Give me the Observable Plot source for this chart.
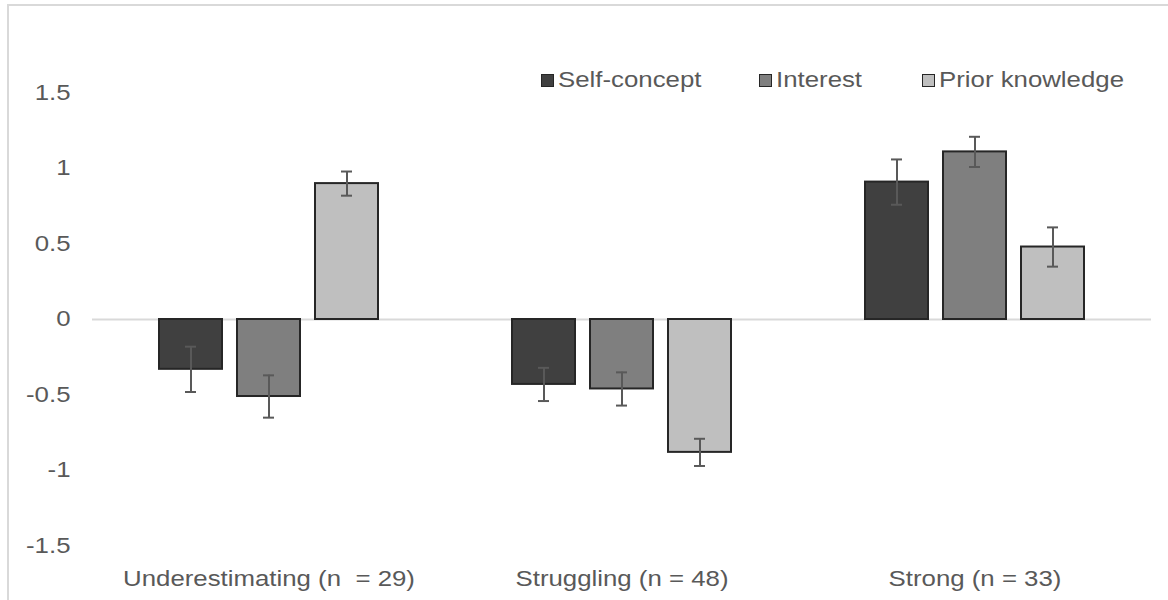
<!DOCTYPE html>
<html>
<head>
<meta charset="utf-8">
<script src="https://cdn.jsdelivr.net/npm/d3@7"></script>
<script src="https://cdn.jsdelivr.net/npm/@observablehq/plot@0.6"></script>
<style>
  html, body { margin: 0; padding: 0; background: #fff; }
  #wrap { position: relative; width: 1168px; height: 600px; overflow: hidden; font-family: "Liberation Sans", Arial, sans-serif; }
  #frame { position: absolute; left: 7px; top: 4px; width: 1170px; height: 600px; border-top: 2px solid #d9d9d9; border-left: 2px solid #d9d9d9; }
  #chart { position: absolute; left: 0; top: 0; }
  #chart svg text { white-space: pre; }
  .legend-item { position: absolute; top: 69px; display: flex; align-items: center; font-size: 21.5px; color: #595959; line-height: 22px; white-space: nowrap; }
  .swatch { width: 13px; height: 13px; box-sizing: border-box; border: 1.5px solid #262626; margin-right: 4px; flex: none; }
  .legend-label { display: inline-block; transform: scaleX(1.2); transform-origin: left center; }
</style>
</head>
<body>
<div id="wrap">
  <div id="frame"></div>
  <div id="chart"></div>
  <div id="legend"></div>
</div>
<script>
// Student profile groups and the three standardized measures (mean z-scores with error bars)
const groups = ["Underestimating (n  = 29)", "Struggling (n = 48)", "Strong (n = 33)"];
const series = ["Self-concept", "Interest", "Prior knowledge"];
const colors = ["#404040", "#7f7f7f", "#bfbfbf"];

const selfConcept    = [-0.33, -0.43, 0.91];
const interest       = [-0.51, -0.46, 1.11];
const priorKnowledge = [ 0.90, -0.88, 0.48];

const selfConceptErr    = [0.15, 0.11, 0.15];
const interestErr       = [0.14, 0.11, 0.10];
const priorKnowledgeErr = [0.08, 0.09, 0.13];

const yTicks = [-1.5, -1, -0.5, 0, 0.5, 1, 1.5];
const legendLeft = [541, 759, 922];
const textStretch = 1.2; // labels are drawn slightly wide

const values = [selfConcept, interest, priorKnowledge];
const errors = [selfConceptErr, interestErr, priorKnowledgeErr];

const rows = [];
groups.forEach((g, gi) => {
  series.forEach((s, si) => {
    const v = values[si][gi], e = errors[si][gi];
    rows.push({group: g, series: s, value: v, lo: v - e, hi: v + e});
  });
});

const chart = Plot.plot({
  width: 1168,
  height: 600,
  marginLeft: 92,
  marginRight: 17,
  marginTop: 92.5,
  marginBottom: 54.5,
  style: {fontFamily: "'Liberation Sans', Arial, sans-serif", fontSize: "21.5px", color: "#595959", background: "transparent", overflow: "visible"},
  fx: {domain: groups, padding: 0, label: null, axis: "bottom", tickSize: 0, tickPadding: 25},
  x: {domain: series, paddingInner: 0.19, paddingOuter: 0.83, axis: null},
  y: {domain: [-1.5, 1.5], ticks: yTicks, tickFormat: d => String(d), label: null, tickSize: 0, tickPadding: 22},
  color: {domain: series, range: colors},
  marks: [
    Plot.ruleY([0], {stroke: "#d9d9d9", strokeWidth: 2}),
    Plot.barY(rows, {fx: "group", x: "series", y: "value", fill: "series", stroke: "#262626", strokeWidth: 2}),
    Plot.ruleX(rows, {fx: "group", x: "series", y1: "lo", y2: "hi", stroke: "#595959", strokeWidth: 2}),
    Plot.tickY(rows, {fx: "group", x: "series", y: "lo", stroke: "#595959", strokeWidth: 2, insetLeft: 26, insetRight: 26}),
    Plot.tickY(rows, {fx: "group", x: "series", y: "hi", stroke: "#595959", strokeWidth: 2, insetLeft: 26, insetRight: 26})
  ]
});
document.getElementById("chart").append(chart);

// Widen axis labels
chart.querySelectorAll("text").forEach(t => {
  const len = t.getComputedTextLength();
  if (len > 0) {
    t.setAttribute("textLength", len * textStretch);
    t.setAttribute("lengthAdjust", "spacingAndGlyphs");
  }
});

// Legend placed inside the plot area, top right
const legend = document.getElementById("legend");
series.forEach((s, i) => {
  const item = document.createElement("div");
  item.className = "legend-item";
  item.style.left = legendLeft[i] + "px";
  const sw = document.createElement("span");
  sw.className = "swatch";
  sw.style.background = colors[i];
  const label = document.createElement("span");
  label.className = "legend-label";
  label.textContent = s;
  item.append(sw, label);
  legend.append(item);
});
</script>
</body>
</html>
